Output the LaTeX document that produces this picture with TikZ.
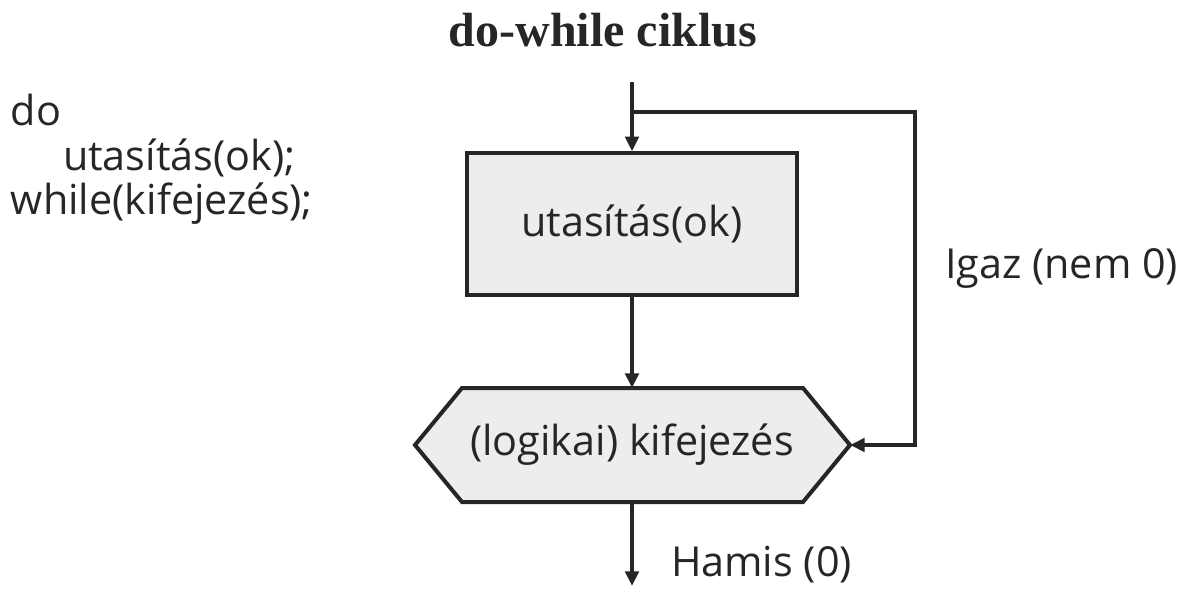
\documentclass[tikz,border=0pt]{standalone}
\usepackage{fontspec}
\setmainfont{Open Sans}
\newfontfamily\titlefont{Liberation Serif}
\usetikzlibrary{arrows.meta}
\begin{document}
\begin{tikzpicture}[x=0.75pt,y=0.75pt,yscale=-1,xscale=1,
  line width=3pt,color=black!85,
  flow/.style={-{Triangle[length=11pt,width=10pt]}},
  txt/.style={inner sep=0.75pt,font=\fontsize{31}{37}\selectfont}]
\useasboundingbox (0,0) rectangle (1202,592);

% title and code
\node (title) at (603,30) [font=\titlefont\bfseries\fontsize{36}{42}\selectfont] {do-while ciklus};
\node (cdo) at (8,110) [txt,anchor=west] {do};
\node (cbody) at (60,158) [txt,anchor=west] {utasítás(ok);};
\node (cwhile) at (8,204) [txt,anchor=west] {while(kifejezés);};

% statement box
\node (stmt) at (632,224) [txt,draw,fill=black!7,minimum width=247pt,minimum height=106pt] {utasítás(ok)};

% condition hexagon
\coordinate (hl) at (415,445);
\coordinate (hr) at (850,445);
\draw [fill=black!7] (hl) -- (462,388) -- (803,388) -- (hr) -- (803,502) -- (462,502) -- cycle;
\node (cond) at (632,445) [txt] {(logikai) kifejezés};
\coordinate (ctop) at (632,388);
\coordinate (cbot) at (632,502);

% connectors
\coordinate (entry) at (632,82);
\coordinate (join) at (632,112);
\coordinate (loop) at (915,112);
\coordinate (back) at (915,445);
\coordinate (exit) at (632,586);
\draw [flow] (entry) -- (stmt.north);
\draw [flow] (stmt.south) -- (ctop);
\draw [flow,line join=miter] (join) -- (loop) -- (back) -- (hr);
\draw [flow] (cbot) -- (exit);

\node (igaz) at (942,268) [txt,anchor=west] {Igaz (nem 0)};
\node (hamis) at (668,565) [txt,anchor=west] {Hamis (0)};
\end{tikzpicture}
\end{document}
